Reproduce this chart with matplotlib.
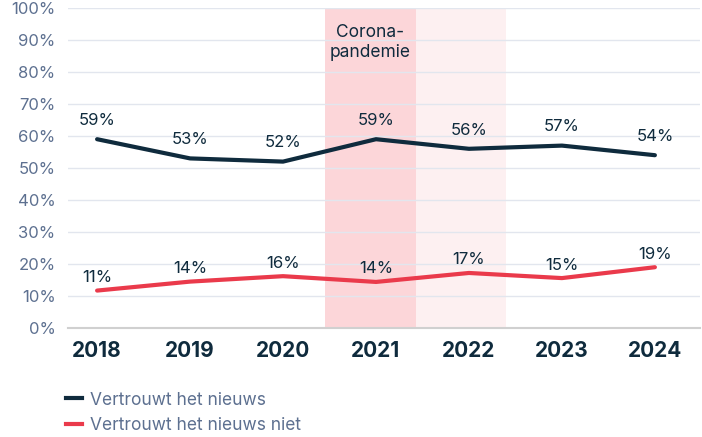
import matplotlib.pyplot as plt
import matplotlib.transforms as mtransforms
from matplotlib.lines import Line2D

plt.rcParams['font.family'] = ['Inter', 'DejaVu Sans']

# data
years = [2018, 2019, 2020, 2021, 2022, 2023, 2024]
trust = [59, 53, 52, 59, 56, 57, 54]
distrust = [11.7, 14.5, 16.2, 14.4, 17.2, 15.6, 19]
trust_labels = ['59%', '53%', '52%', '59%', '56%', '57%', '54%']
distrust_labels = ['11%', '14%', '16%', '14%', '17%', '15%', '19%']

navy = '#0f2b3d'
red = '#ea3a4b'
slate = '#5d7090'

fig = plt.figure(figsize=(7.02, 4.37), dpi=100)
ax = fig.add_axes([0.097, 0.2494, 0.9, 0.7323])

# corona period shading
ax.axvspan(2020.45, 2021.43, color='#fcd6d9', lw=0, zorder=0)
ax.axvspan(2021.43, 2022.40, color='#fdf0f1', lw=0, zorder=0)
ax.text(2020.94, 95, 'Corona-\npandemie', ha='center', va='top', fontsize=12.5,
        color=navy, linespacing=1.2)

ax.plot(years, trust, color=navy, lw=3, solid_capstyle='round', zorder=3)
ax.plot(years, distrust, color=red, lw=3, solid_capstyle='round', zorder=3)

for x, y, s in zip(years, trust, trust_labels):
    ax.annotate(s, (x, y), xytext=(0, 8), textcoords='offset points',
                ha='center', va='bottom', fontsize=12, color=navy)
for x, y, s in zip(years, distrust, distrust_labels):
    ax.annotate(s, (x, y), xytext=(0, 4), textcoords='offset points',
                ha='center', va='bottom', fontsize=12, color=navy)

ax.set_xlim(2017.688, 2024.484)
ax.set_ylim(0, 100)
ax.set_yticks(range(0, 101, 10))
ax.set_yticklabels([f'{v}%' for v in range(0, 101, 10)], fontsize=12, color=slate)
ax.set_xticks(years)
ax.set_xticklabels([str(y) for y in years], fontsize=15, fontweight='bold', color=navy)
shift = mtransforms.ScaledTranslation(-6 / 100, 0, fig.dpi_scale_trans)
for lab in ax.get_xticklabels():
    lab.set_transform(lab.get_transform() + shift)
ax.tick_params(axis='both', length=0)
ax.tick_params(axis='y', pad=9)
ax.tick_params(axis='x', pad=9)
ax.grid(axis='y', color='#e2e6ee', lw=1)
ax.set_axisbelow(True)
for side in ['top', 'right', 'left']:
    ax.spines[side].set_visible(False)
ax.spines['bottom'].set_color('#d0d0d0')
ax.spines['bottom'].set_linewidth(1.5)

handles = [Line2D([], [], color=navy, lw=3), Line2D([], [], color=red, lw=3)]
fig.legend(handles, ['Vertrouwt het nieuws', 'Vertrouwt het nieuws niet'],
           loc='upper left', bbox_to_anchor=(0.094, 0.104), frameon=False,
           fontsize=12.5, labelcolor=slate, handlelength=0.9, handletextpad=0.5,
           labelspacing=0.5, borderaxespad=0, borderpad=0)

fig.savefig('out.png', dpi=100)
